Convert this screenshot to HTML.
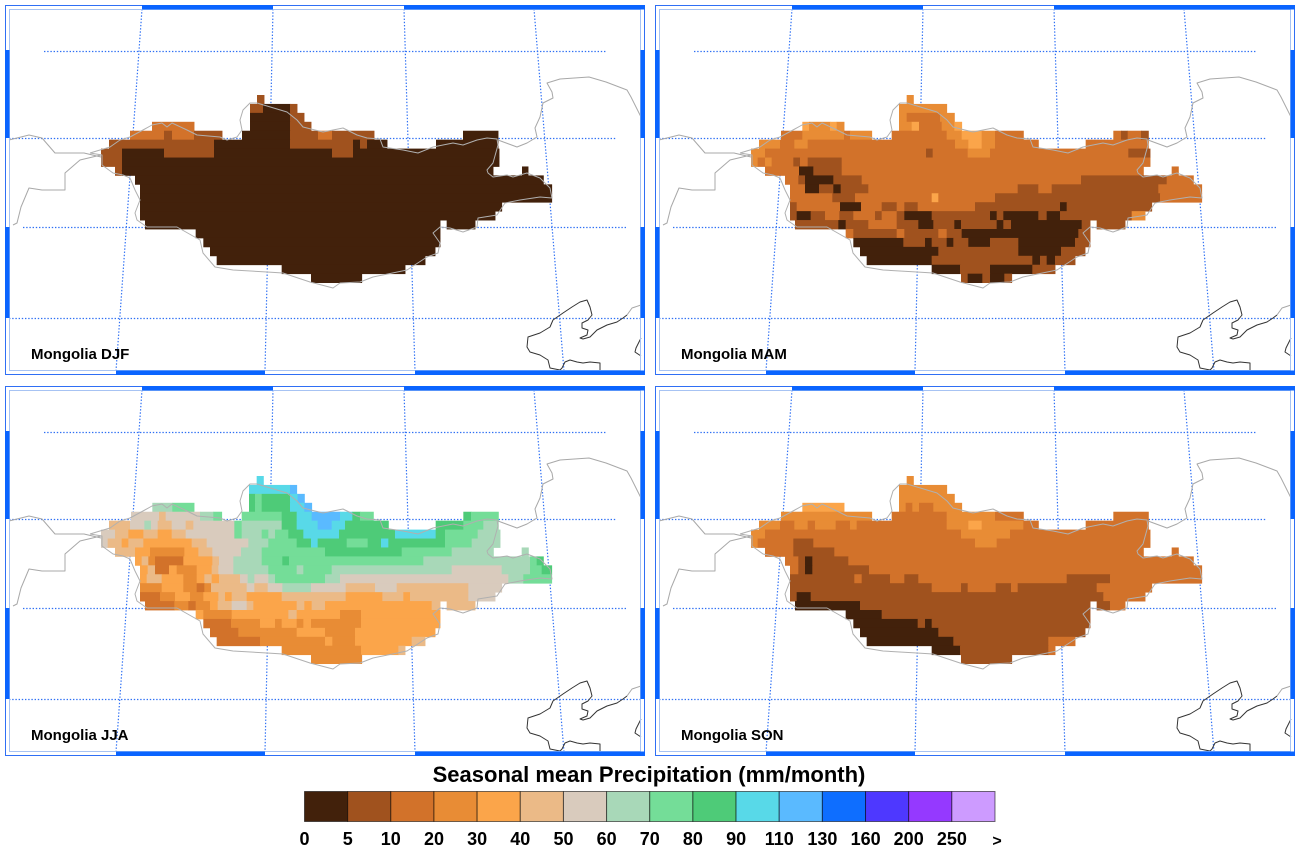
<!DOCTYPE html>
<html>
<head>
<meta charset="utf-8">
<style>
  html,body{margin:0;padding:0;background:#fff;}
  body{width:1300px;height:849px;overflow:hidden;}
  svg{display:block;}
  .lbl{font-family:"Liberation Sans",Arial,sans-serif;font-weight:bold;}
</style>
</head>
<body>
<svg id="svg" width="1300" height="849" viewBox="0 0 1300 849" xmlns="http://www.w3.org/2000/svg">
  <rect x="0" y="0" width="1300" height="849" fill="#fff"/>
  <defs>
    <g id="grid">
      <g stroke="#2f70f4" stroke-width="1.2" stroke-dasharray="1.4 1.8" fill="none">
        <line x1="44" y1="51.5" x2="606" y2="51.5"/>
        <line x1="9" y1="138.5" x2="617" y2="138.5"/>
        <line x1="23" y1="227.5" x2="627" y2="227.5"/>
        <line x1="9" y1="318.5" x2="641" y2="318.5"/>
        <line x1="142" y1="9" x2="116" y2="371"/>
        <line x1="273" y1="9" x2="265" y2="371"/>
        <line x1="404" y1="9" x2="415" y2="371"/>
        <line x1="534" y1="9" x2="564" y2="371"/>
      </g>
    </g>
    <g id="lines" fill="none" stroke-linejoin="round">
      <polyline stroke="#b0b0b0" stroke-width="1" points="90,153 100,150 110,147 120,140 130,137 143,130 152,125 162,123 167,127 172,123 187,130 197,135 220,137 227,140 237,137 242,130 240,120 243,110 250,103 257,103 287,112 297,120 303,127 323,132 343,128 357,135 367,138 380,139 383,147 403,150 418,153 433,147 453,143 463,145 477,140 487,138 497,139 498,145 493,163 487,170 488,173 493,177 507,175 513,177 527,173 540,178 550,188 552,198 540,197 520,200 505,203 497,215 478,218 477,227 463,232 450,228 440,227 433,233 440,243 438,253 427,257 407,270 373,277 360,282 340,283 333,288 310,282 283,273 267,272 233,270 215,267 203,253 200,240 177,227 147,227 137,220 135,213 140,200 135,190 130,178 123,175 113,173 102,165 102,155 90,153"/>
      <polyline stroke="#a8a8a8" stroke-width="1" points="9,140 29,135 42,138 55,153 84,153 101,157"/>
      <polyline stroke="#a8a8a8" stroke-width="1" points="101,155 80,160 65,173 65,190 42,190 29,188 21,207 17,223 13,225"/>
      <polyline stroke="#a8a8a8" stroke-width="1" points="498,140 517,147 527,143 537,137 535,128 540,117 543,103 553,98 552,92 547,83 560,79 589,77 606,82 627,90 631,97 641,117"/>
      <polyline stroke="#a8a8a8" stroke-width="1" points="627,315 632,308 641,305"/>
      <polyline stroke="#333" stroke-width="1" points="600,371 600,363 590,362 583,363 577,362 570,360 565,362 562,368 560,370 550,368 548,360 540,355 530,352 527,347 528,337 540,333 550,327 553,320 563,313 572,307 580,302 587,300 590,307 592,315 588,320 582,323 582,328 588,330 587,335 580,338 583,339 590,337 597,330 607,325 617,322 623,318 627,315"/>
      <polyline stroke="#333" stroke-width="1" points="641,338 636,348 635,352 641,356"/>
    </g>
    <g id="frame">
      <rect x="5.5" y="5.5" width="639" height="369" fill="none" stroke="#2f6ff5" stroke-width="1"/>
      <rect x="9.5" y="9.5" width="631" height="361" fill="none" stroke="#a7c3f3" stroke-width="1"/>
      <g fill="#0a64ff">
        <rect x="142" y="5" width="131" height="4.5"/>
        <rect x="404" y="5" width="241" height="4.5"/>
        <rect x="116" y="370.5" width="149" height="4.5"/>
        <rect x="415" y="370.5" width="230" height="4.5"/>
        <rect x="5" y="50" width="4.5" height="88"/>
        <rect x="5" y="227" width="4.5" height="91"/>
        <rect x="640.5" y="50" width="4.5" height="88"/>
        <rect x="640.5" y="227" width="4.5" height="91"/>
      </g>
    </g>
  </defs>

  <g transform="translate(0,0)">
    <use href="#grid"/>
    <g id="c1"></g>
    <use href="#lines"/>
    <use href="#frame"/>
    <text class="lbl" x="31" y="359" font-size="15" fill="#000">Mongolia DJF</text>
  </g>
  <g transform="translate(650,0)">
    <use href="#grid"/>
    <g id="c2"></g>
    <use href="#lines"/>
    <use href="#frame"/>
    <text class="lbl" x="31" y="359" font-size="15" fill="#000">Mongolia MAM</text>
  </g>
  <g transform="translate(0,381)">
    <use href="#grid"/>
    <g id="c3"></g>
    <use href="#lines"/>
    <use href="#frame"/>
    <text class="lbl" x="31" y="359" font-size="15" fill="#000">Mongolia JJA</text>
  </g>
  <g transform="translate(650,381)">
    <use href="#grid"/>
    <g id="c4"></g>
    <use href="#lines"/>
    <use href="#frame"/>
    <text class="lbl" x="31" y="359" font-size="15" fill="#000">Mongolia SON</text>
  </g>

  <text class="lbl" x="649" y="782" font-size="22" text-anchor="middle" fill="#000">Seasonal mean Precipitation (mm/month)</text>
  <g id="cbar"></g>
  <g class="lbl" font-size="18" text-anchor="middle" fill="#000">
    <text x="304.5" y="845">0</text>
    <text x="347.7" y="845">5</text>
    <text x="390.8" y="845">10</text>
    <text x="434" y="845">20</text>
    <text x="477.1" y="845">30</text>
    <text x="520.3" y="845">40</text>
    <text x="563.5" y="845">50</text>
    <text x="606.6" y="845">60</text>
    <text x="649.8" y="845">70</text>
    <text x="692.9" y="845">80</text>
    <text x="736.1" y="845">90</text>
    <text x="779.3" y="845">110</text>
    <text x="822.4" y="845">130</text>
    <text x="865.6" y="845">160</text>
    <text x="908.7" y="845">200</text>
    <text x="951.9" y="845">250</text>
    <text x="997" y="846" font-size="16">&gt;</text>
  </g>
</svg>
<script>
(function(){
var NS="http://www.w3.org/2000/svg";
var COL={D:'#42210B',B:'#A0521E',O:'#D2722A',L:'#E88C35',Y:'#FBA54A',T:'#EBBA87',G:'#D9CBBD',M:'#A8D8B8',N:'#74DD98',E:'#4ECB78',C:'#58D9E8',S:'#5ABAFF'};
function draw(id,rows){
  var g=document.getElementById(id);
  rows.forEach(function(s,r){
    var y=95+8.933*r;
    s.split(' ').forEach(function(t){
      var m=t.match(/(\d+)-(\d+)([A-Z])/); if(!m) return;
      var x0=95+(+m[1])/3, x1=95+(+m[2])/3;
      var e=document.createElementNS(NS,'rect');
      e.setAttribute('x',x0.toFixed(2));
      e.setAttribute('y',y.toFixed(2));
      e.setAttribute('width',(x1-x0+0.45).toFixed(2));
      e.setAttribute('height','9.35');
      e.setAttribute('fill',COL[m[3]]);
      g.appendChild(e);
    });
  });
}
var DJF=[
"486-507B",
"465-504B 504-585D 585-606B",
"465-585D 585-627B",
"171-297O 465-585D 585-648B",
"105-207O 207-231B 231-297O 297-381B 441-585D 585-669B 669-711O 711-837B 1104-1209D",
"42-357B 357-585D 585-774B 774-795D 795-816B 816-876D 1023-1209D",
"18-81B 81-207D 207-357B 357-711D 711-774B 774-1212D",
"18-81B 81-1212D",
"60-81B 81-1194D 1281-1299D",
"120-1345D",
"135-1370D",
"135-1370D",
"135-1220D",
"135-1200D",
"150-1035D 1055-1140D",
"302-1035D",
"325-1035D",
"345-1020D",
"365-990D",
"560-930D",
"648-800D"];
var MAM=[
"485-505L",
"462-605L",
"462-485L 485-585O 585-628L",
"172-192Y 192-255L 255-275Y 275-297L 462-500L 500-522Y 522-590O 590-628L 628-650Y",
"108-172O 172-297L 297-315O 315-380L 440-605O 605-650L 650-710Y 710-750L 750-835O 1105-1128O 1128-1148B 1148-1188O 1188-1210B",
"42-105L 105-148O 148-188L 188-630O 630-670L 670-710Y 710-750L 750-880O 1022-1210O",
"18-60L 60-543O 543-563B 563-668O 668-735L 735-1150O 1150-1215B",
"18-38L 38-60O 60-80L 80-145O 145-165B 165-188O 188-290B 290-1215O",
"60-162O 162-205D 205-290B 290-1195O 1280-1300O",
"120-160O 160-180B 180-265D 265-350B 350-1008O 1008-1265B 1265-1345O",
"135-180O 180-222D 222-265B 265-287D 287-370B 370-818O 818-880B 880-920O 920-1240B 1240-1370O",
"135-262O 262-330B 330-560O 560-580Y 580-750O 750-1245B 1245-1370O",
"135-155B 155-285O 285-348D 348-410O 410-455B 455-478O 478-518B 518-690O 690-945B 945-965D 965-1220B",
"135-155B 155-197D 197-240B 240-283O 283-325B 325-390O 390-410B 410-455O 455-478B 478-560D 560-735B 735-755D 755-775B 775-880D 880-905B 905-945D 945-1160B 1160-1200L",
"150-280B 280-302D 302-370B 370-455O 455-520B 520-565D 565-628B 628-648D 648-755B 755-775D 775-798B 798-1010D 1010-1035B 1055-1140B",
"302-325O 325-455B 455-478O 478-580B 580-605O 605-650B 650-1000D 1000-1035B",
"325-475D 475-540B 540-560D 560-605B 605-625D 625-670B 670-735D 735-820B 820-990D 990-1035B",
"345-580D 580-820B 820-948D 948-1020B",
"365-560D 560-862B 862-885D 885-905B 905-930D 930-990B",
"560-645D 645-735B 735-862D 862-930B",
"648-668B 668-712D 712-735B 735-778D 778-800B"];
var JJA=[
"485-505C",
"462-585C 585-605S",
"462-480E 480-500N 500-585E 585-608C 608-628S",
"172-232M 232-297N 462-480E 480-500N 500-585E 585-628C 628-650S",
"108-192G 192-212T 212-315G 315-355M 355-380N 440-560N 560-605E 605-650C 650-735S 735-772C 772-795E 795-835N 1105-1128E 1128-1210N",
"42-105T 105-148G 148-168M 168-188G 188-230T 230-272G 272-295T 295-418G 418-440N 440-560M 560-605E 605-668C 668-710S 710-750C 750-880E 1022-1105E 1105-1165N 1165-1210M",
"18-60G 60-100T 100-145Y 145-188T 188-230Y 230-272T 272-418G 418-440N 440-500M 500-520N 520-540M 540-580N 580-625E 625-732C 732-900E 900-1022C 1022-1050E 1050-1148N 1148-1215M",
"18-38G 38-80T 80-100Y 100-145T 145-290Y 290-335T 335-460G 460-520M 520-605N 605-648E 648-668C 668-755E 755-818N 818-858E 858-880C 880-1050E 1050-1130N 1130-1215M",
"60-120T 120-165Y 165-268L 268-310Y 310-352T 352-438G 438-500M 500-690N 690-920E 920-1070N 1070-1195M 1280-1300M",
"120-140Y 140-160T 160-180L 180-265O 265-352Y 352-372T 372-415G 415-500M 500-562N 562-582E 582-985N 985-1305M 1305-1325N 1325-1345E",
"135-158Y 158-180T 180-222O 222-245Y 245-305L 305-350Y 350-370T 370-415G 415-520M 520-605N 605-625M 625-710N 710-1070M 1070-1220G 1220-1305M 1305-1340N 1340-1370E",
"135-155Y 155-200T 200-265Y 265-305L 305-328Y 328-350T 350-372Y 372-435T 435-458G 458-478M 478-520G 520-540M 540-690N 690-735M 735-1240G 1240-1285M 1285-1370N",
"135-200L 200-265Y 265-305L 305-328O 328-348L 348-455T 455-478G 478-518T 518-562G 562-648M 648-752G 752-840T 840-905G 905-1120T 1120-1220G",
"135-195O 195-240L 240-285Y 285-325L 325-370Y 370-390T 390-410Y 410-455T 455-560Y 560-752T 752-862Y 862-925T 925-945Y 945-1120T 1120-1200G",
"150-238O 238-280L 280-302O 302-345L 345-368Y 368-410T 410-455G 455-475T 475-605Y 605-628T 628-650Y 650-690T 690-1010Y 1010-1035T 1055-1140T",
"302-325Y 325-410L 410-580Y 580-605T 605-735Y 735-798L 798-1035Y",
"325-408O 408-495L 495-540Y 540-560L 560-605Y 605-625L 625-648Y 648-798L 798-1035Y",
"345-430O 430-605L 605-690Y 690-780L 780-1020Y",
"365-495O 495-690L 690-712Y 712-780L 780-950Y 950-990T",
"560-798L 798-910Y 910-930T",
"648-800L"];
var SON=[
"485-505L",
"462-605L",
"462-628L",
"172-297Y 462-482L 482-502O 502-522L 522-565O 565-650L",
"108-380L 440-605O 605-750L 750-835O 1105-1210O",
"42-105L 105-148O 148-188L 188-210O 210-272L 272-315O 315-335L 335-605O 605-670L 670-710Y 710-835L 835-880O 1022-1210O",
"18-60L 60-648O 648-795L 795-1215O",
"18-38L 38-145O 145-205B 205-690O 690-755L 755-1215O",
"60-145O 145-268B 268-1195O 1280-1300O",
"120-160O 160-180B 180-202D 202-310B 310-1345O",
"135-160O 160-180B 180-202D 202-372B 372-1370O",
"135-328B 328-350O 350-435B 435-478O 478-520B 520-965O 965-1095B 1095-1370O",
"135-560B 560-648O 648-668B 668-752O 752-798B 798-818O 818-1055B 1055-1220O",
"135-155B 155-197D 197-1075B 1075-1200O",
"150-345D 345-1035B 1055-1095B 1095-1140O",
"302-410D 410-1035B",
"325-518D 518-540B 540-560D 560-1035B",
"345-580D 580-1020B",
"365-625D 625-910B 910-990O",
"560-645D 645-910B 910-930O",
"648-800B"];
draw('c1',DJF); draw('c2',MAM); draw('c3',JJA); draw('c4',SON);
var cb=['#42210B','#A0521E','#D2722A','#E88C35','#FBA54A','#EBBA87','#D9CBBD','#A8D8B8','#74DD98','#4ECB78','#58D9E8','#5ABAFF','#0E6EFF','#4E38FF','#9539FF','#CD9BFF'];
var g=document.getElementById('cbar');
var w=(995-304.5)/16;
cb.forEach(function(c,i){
  var e=document.createElementNS(NS,'rect');
  e.setAttribute('x',(304.5+w*i).toFixed(2));
  e.setAttribute('y','791.5');
  e.setAttribute('width',w.toFixed(2));
  e.setAttribute('height','30');
  e.setAttribute('fill',c);
  e.setAttribute('stroke','rgba(0,0,0,0.55)');
  e.setAttribute('stroke-width','1');
  g.appendChild(e);
});
})();
</script>
</body>
</html>
